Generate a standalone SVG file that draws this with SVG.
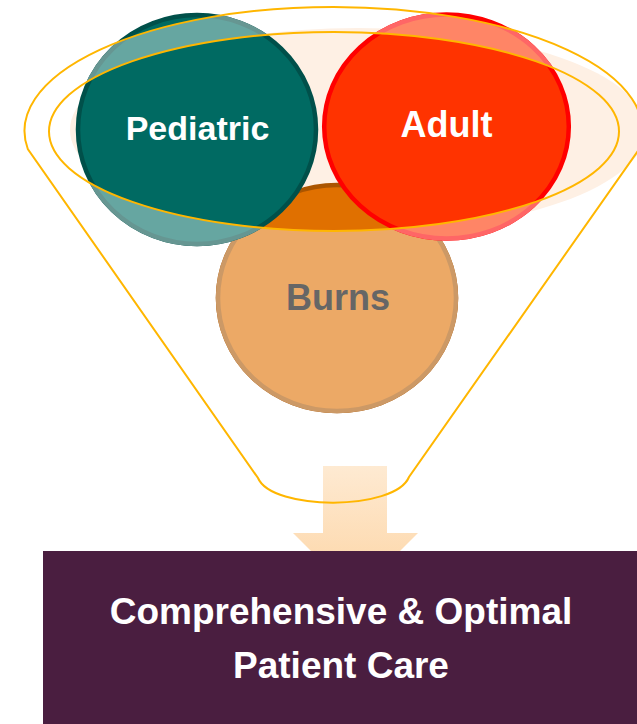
<svg xmlns="http://www.w3.org/2000/svg" width="637" height="724" viewBox="0 0 637 724">
<style>
.lbl{font-family:"Liberation Sans",Arial,sans-serif;font-weight:bold;text-anchor:middle}
.line{fill:none;stroke:#FFB600;stroke-width:2}
.ring{stroke-width:4.5}
</style>
<defs>
<clipPath id="rim"><path clip-rule="evenodd" d="M27.8,149 A309,124 0 1,1 639.2,149 L409,477 C395,511 272,511 258,478 Z M49,131.5 A285,99.5 0 1,0 619,131.5 A285,99.5 0 1,0 49,131.5 Z"/></clipPath>
<linearGradient id="arrowGrad" gradientUnits="userSpaceOnUse" x1="0" y1="466" x2="0" y2="596">
<stop offset="0" stop-color="#FEEAD2"/><stop offset="1" stop-color="#FDD4A3"/>
</linearGradient>
</defs>
<rect width="637" height="724" fill="#FFFFFF"/>
<g id="glow"><ellipse cx="358" cy="130" rx="288" ry="102" fill="#FEF0E4"/></g>
<g id="connectors">
<path d="M323,466 H387 V533 H418 L355.5,595.5 L293,533 H323 Z" fill="url(#arrowGrad)"/>
</g>
<g id="node-burns">
<ellipse class="ring" cx="337" cy="298" rx="119" ry="113" fill="#E07000" stroke="#AA5500"/>
<ellipse class="ring" cx="337" cy="298" rx="119" ry="113" fill="#ECA966" stroke="#CC9966" clip-path="url(#rim)"/>
<text class="lbl" x="338" y="310" font-size="36" fill="#666666">Burns</text>
</g>
<g id="node-pediatric">
<ellipse class="ring" cx="197" cy="129.5" rx="119" ry="114.5" fill="#006A62" stroke="#00504A"/>
<ellipse class="ring" cx="197" cy="129.5" rx="119" ry="114.5" fill="#66A6A1" stroke="#669692" clip-path="url(#rim)"/>
<text class="lbl" x="197.5" y="140" font-size="34" fill="#FFFFFF">Pediatric</text>
</g>
<g id="node-adult">
<ellipse class="ring" cx="446.5" cy="126.5" rx="122.3" ry="112" fill="#FF3300" stroke="#FF0000"/>
<ellipse class="ring" cx="446.5" cy="126.5" rx="122.3" ry="112" fill="#FF8566" stroke="#FF6666" clip-path="url(#rim)"/>
<text class="lbl" x="446.5" y="137" font-size="36" fill="#FFFFFF">Adult</text>
</g>
<g id="funnel">
<path class="line" d="M27.8,149 A309,124 0 1,1 639.2,149 L409,477 C395,511 272,511 258,478 Z"/>
<ellipse class="line" cx="334" cy="131.5" rx="285" ry="99.5"/>
</g>
<g id="node-result">
<rect x="43" y="551" width="600" height="180" fill="#4A1E40"/>
<text class="lbl" x="341" y="624" font-size="37" fill="#FFFFFF">Comprehensive &amp; Optimal</text>
<text class="lbl" x="341" y="678" font-size="37" fill="#FFFFFF">Patient Care</text>
</g>
</svg>
